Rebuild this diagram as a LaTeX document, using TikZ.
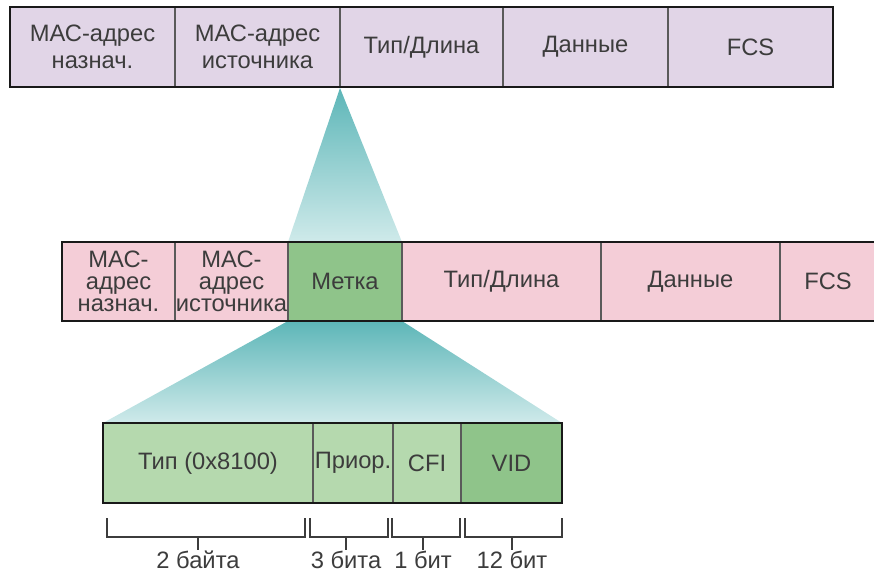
\documentclass[tikz,border=0pt]{standalone}
\usepackage{fontspec}
\setmainfont{Liberation Sans}
\usetikzlibrary{positioning}
\definecolor{lilacFill}{HTML}{E1D5E7}
\definecolor{pinkFill}{HTML}{F4CDD7}
\definecolor{tagGreen}{HTML}{8FC48A}
\definecolor{fieldGreen}{HTML}{B5D9AE}
\definecolor{funnelTop}{HTML}{5DB6B8}
\definecolor{funnelBottom}{HTML}{CFEAEA}
\definecolor{textGray}{HTML}{3C3C3C}
\definecolor{dividerGray}{HTML}{5A5A5A}
\tikzset{
  frameCell/.style={draw=dividerGray, line width=0.9pt, align=center, text=textGray, font=\fontsize{13.5}{15.3}\selectfont, inner sep=0pt, outer sep=0pt, minimum height=1.6cm},
  topCell/.style={frameCell, fill=lilacFill},
  tagCell/.style={frameCell, fill=pinkFill, minimum height=1.58cm, font=\fontsize{13.5}{12.4}\selectfont},
  fieldCell/.style={frameCell, fill=fieldGreen},
  frameBorder/.style={draw=black!90, line width=1.6pt},
  braceLine/.style={draw=textGray, line width=0.8pt},
  sizeLabel/.style={text=textGray, font=\fontsize{13.5}{15}\selectfont, inner sep=0pt}
}

\begin{document}
\begin{tikzpicture}
  \useasboundingbox (0,0) rectangle (17.48,-11.46);

  % zoom funnels
  \coordinate (apex) at (6.8,-1.76);
  \shade[top color=funnelTop, bottom color=funnelBottom] (apex) -- (8.04,-4.84) -- (5.76,-4.84) -- cycle;
  \shade[top color=funnelTop, bottom color=funnelBottom] (5.76,-6.42) -- (8.04,-6.42) -- (11.24,-8.46) -- (2.06,-8.46) -- cycle;

  % untagged frame
  \node[topCell, minimum width=3.3cm, anchor=north west] (dst) at (0.2,-0.14) {МАС-адрес\\назнач.};
  \node[topCell, minimum width=3.3cm, right=0pt of dst] (src) {МАС-адрес\\источника};
  \node[topCell, minimum width=3.26cm, right=0pt of src] (type) {Тип/Длина};
  \node[topCell, minimum width=3.3cm, right=0pt of type] (data) {Данные};
  \node[topCell, minimum width=3.3cm, right=0pt of data] (fcs) {FCS};
  \draw[frameBorder] (dst.north west) rectangle (fcs.south east);

  % tagged frame
  \node[tagCell, minimum width=2.26cm, anchor=north west] (tdst) at (1.24,-4.84) {МАС-\\адрес\\назнач.};
  \node[tagCell, minimum width=2.26cm, right=0pt of tdst] (tsrc) {МАС-\\адрес\\источника};
  \node[tagCell, minimum width=2.28cm, right=0pt of tsrc, fill=tagGreen] (tag) {Метка};
  \node[tagCell, minimum width=3.98cm, right=0pt of tag] (ttype) {Тип/Длина};
  \node[tagCell, minimum width=3.58cm, right=0pt of ttype] (tdata) {Данные};
  \node[tagCell, minimum width=1.92cm, right=0pt of tdata] (tfcs) {FCS};
  \draw[frameBorder] (tfcs.north east) -- (tdst.north west) -- (tdst.south west) -- (tfcs.south east);

  % 802.1Q tag fields
  \node[fieldCell, minimum width=4.2cm, anchor=north west] (tpid) at (2.06,-8.46) {Тип (0x8100)};
  \node[fieldCell, minimum width=1.6cm, right=0pt of tpid] (prio) {Приор.};
  \node[fieldCell, minimum width=1.36cm, right=0pt of prio] (cfi) {CFI};
  \node[fieldCell, minimum width=2.02cm, right=0pt of cfi, fill=tagGreen] (vid) {VID};
  \draw[frameBorder] (tpid.north west) rectangle (vid.south east);

  % field sizes
  \foreach \bl/\br/\bm/\bt [count=\i] in {2.14/6.10/3.96/2 байта, 6.20/7.76/6.92/3 бита, 7.84/9.20/8.46/1 бит, 9.30/11.24/10.24/12 бит} {
    \draw[braceLine] (\bl,-10.36) -- (\bl,-10.74) -- (\br,-10.74) -- (\br,-10.36);
    \draw[braceLine] (\bm,-10.74) -- (\bm,-11.0);
    \node[sizeLabel, anchor=base] (size\i) at (\bm,-11.36) {\bt};
  }
\end{tikzpicture}
\end{document}
